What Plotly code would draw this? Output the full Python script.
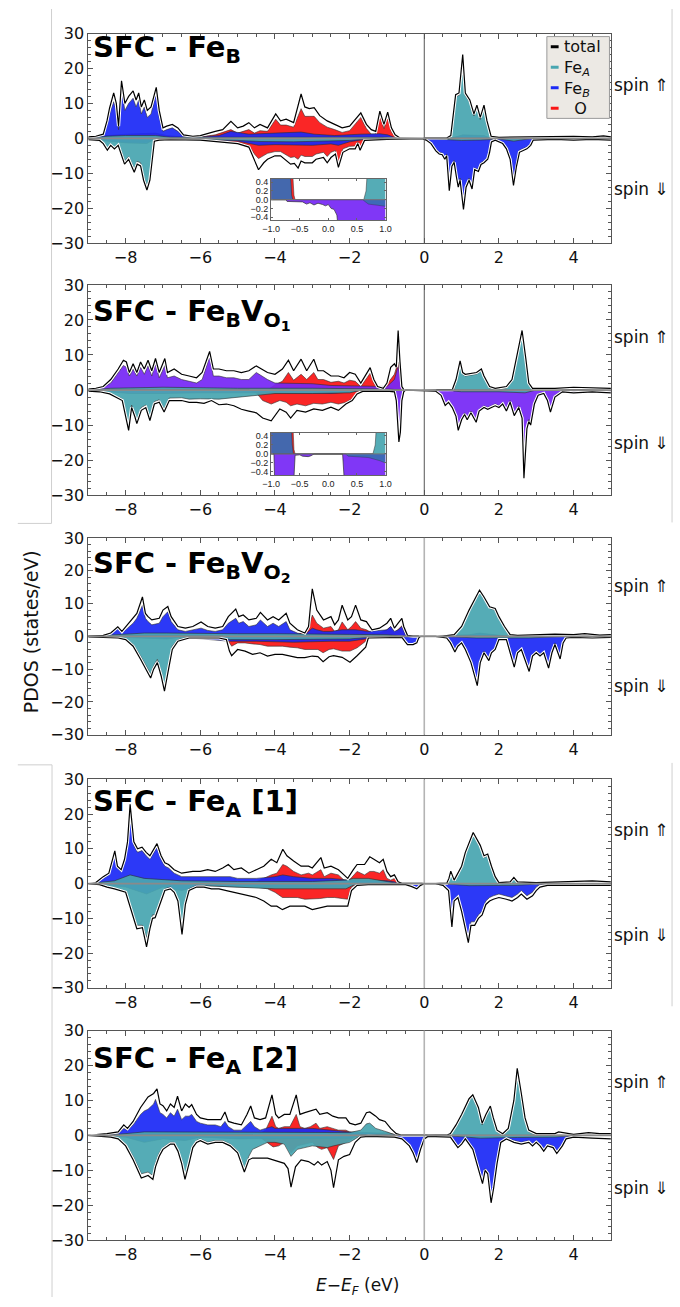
import plotly.graph_objects as go

# ---------------- data (energy in eV, PDOS in states/eV) ----------------
PANEL_TITLES = [
    "SFC - Fe<sub>B</sub>",
    "SFC - Fe<sub>B</sub>V<sub>O<sub>1</sub></sub>",
    "SFC - Fe<sub>B</sub>V<sub>O<sub>2</sub></sub>",
    "SFC - Fe<sub>A</sub> [1]",
    "SFC - Fe<sub>A</sub> [2]",
]
X_TICKS = [-8, -6, -4, -2, 0, 2, 4]
Y_TICKS = [-30, -20, -10, 0, 10, 20, 30]
INSET_X_TICKS = [-1.0, -0.5, 0.0, 0.5, 1.0]
INSET_Y_TICKS = [-0.4, -0.2, 0.0, 0.2, 0.4]
LEGEND_LABELS = ["total", "Fe<sub><i>A</i></sub>", "Fe<sub><i>B</i></sub>", "\u00a0\u00a0O"]

# ---- panel 1: SFC - FeB ----
P1_TOT_UP = [(-9.0,0.4),(-8.8,0.6),(-8.6,1.2),(-8.5,5),(-8.43,8.7),(-8.32,13),(-8.25,10),(-8.19,3.5),(-8.11,16.5),(-8.02,10),(-7.92,12),(-7.8,13.6),(-7.72,11),(-7.65,13),(-7.58,9),(-7.5,11),(-7.42,8),(-7.32,9),(-7.18,14.6),(-7.1,8),(-7.0,3),(-6.9,3.5),(-6.75,4),(-6.6,3),(-6.45,1),(-6.2,0.6),(-6.0,0.8),(-5.8,1.5),(-5.6,2),(-5.4,2.5),(-5.18,4.9),(-5.0,3),(-4.85,3.5),(-4.7,4.5),(-4.55,3),(-4.4,4),(-4.2,3),(-3.98,7),(-3.85,5),(-3.7,5.5),(-3.5,4.5),(-3.3,12.7),(-3.2,9),(-3.08,8.5),(-2.95,8.8),(-2.8,6.5),(-2.6,5),(-2.4,4),(-2.2,3),(-2.0,3.5),(-1.85,5.5),(-1.7,7.3),(-1.55,4),(-1.42,2.5),(-1.3,2),(-1.19,7.8),(-1.08,4),(-0.98,7.5),(-0.88,3),(-0.78,1),(-0.65,0.1),(0.0,0.1),(0.6,0.1),(0.71,0.8),(0.8,8),(0.84,12.5),(0.93,13),(1.03,24),(1.1,13),(1.22,11),(1.33,7),(1.41,9.5),(1.5,6),(1.6,9.5),(1.68,5),(1.79,0.6),(2.0,0.3),(2.5,0.4),(3.0,0.3),(3.5,0.5),(4.0,0.6),(4.5,0.4),(4.8,0.7),(5.0,0.4)]
P1_FEB_UP = [(-9.0,0.2),(-8.6,0.8),(-8.5,4),(-8.43,7),(-8.32,10.5),(-8.25,8),(-8.19,2.5),(-8.11,14),(-8.02,8),(-7.92,10),(-7.8,11.5),(-7.72,9),(-7.65,11),(-7.58,7),(-7.5,9),(-7.42,6),(-7.32,7),(-7.18,13.2),(-7.1,6),(-7.0,2),(-6.9,2.5),(-6.75,3),(-6.6,2),(-6.45,0.5),(-6.0,0.4),(-5.5,0.8),(-5.18,2),(-4.7,1.2),(-4.0,1.5),(-3.3,1.8),(-2.95,1.2),(-2.4,0.8),(-1.7,1.2),(-1.19,1.3),(-0.98,1),(-0.78,0.2),(-0.65,0),(0.7,0),(1.03,1),(1.6,0.8),(1.8,0),(5.0,0)]
P1_O_UP = [(-9.0,0),(-8.5,0.8),(-8.0,1.2),(-7.2,1.5),(-6.9,0.8),(-6.3,0.3),(-6.0,0.4),(-5.6,1),(-5.18,2.5),(-5.0,1.5),(-4.7,2.5),(-4.55,1.5),(-4.4,2.2),(-4.2,2),(-3.98,5.5),(-3.85,3.8),(-3.7,3.8),(-3.5,3.2),(-3.3,8.5),(-3.2,6.3),(-3.08,6.3),(-2.95,6.3),(-2.8,4.5),(-2.6,3.2),(-2.4,2.5),(-2.2,1.7),(-2.0,2.2),(-1.85,4),(-1.7,6),(-1.55,2.8),(-1.42,1.2),(-1.3,1.2),(-1.19,6.5),(-1.08,2.8),(-0.98,6.2),(-0.88,1.8),(-0.78,0.4),(-0.65,0),(5.0,0)]
P1_FEA_UP = [(-9.0,0),(-8.5,0.6),(-8.0,0.8),(-7.2,0.8),(-6.8,0.3),(-5.0,0.3),(-3.0,0.5),(-1.0,0.3),(-0.7,0),(0.65,0),(0.71,0.5),(0.8,7),(0.84,12),(0.93,12.3),(1.03,23),(1.1,12.3),(1.22,10.3),(1.33,6.4),(1.41,8.8),(1.5,5.4),(1.6,8.8),(1.68,4.4),(1.79,0.3),(2.0,0),(5.0,0)]
P1_TOT_DN = [(-9.0,-0.4),(-8.7,-0.6),(-8.6,-1.5),(-8.49,-3.4),(-8.4,-2),(-8.3,-3),(-8.2,-2),(-8.1,-5),(-8.03,-7.4),(-7.92,-6),(-7.77,-9.7),(-7.69,-7.4),(-7.6,-7.9),(-7.52,-12),(-7.43,-14.8),(-7.35,-12),(-7.23,-0.8),(-7.1,-0.5),(-6.8,-0.4),(-6.0,-0.5),(-5.5,-1),(-5.0,-1.5),(-4.7,-2.5),(-4.55,-6),(-4.44,-9),(-4.3,-7),(-4.2,-6),(-4.0,-5),(-3.85,-5),(-3.58,-7.4),(-3.48,-7.2),(-3.38,-8.5),(-3.3,-6.5),(-3.2,-7),(-3.0,-7),(-2.9,-6),(-2.7,-5.5),(-2.6,-7),(-2.5,-5.5),(-2.38,-4.5),(-2.3,-8.3),(-2.18,-4),(-2.0,-3),(-1.85,-3),(-1.78,-1.5),(-1.72,-3.4),(-1.6,-0.6),(-1.0,-0.3),(-0.5,-0.1),(-0.05,-0.1),(0.05,-0.5),(0.18,-1.5),(0.31,-3.6),(0.4,-4.5),(0.48,-4.7),(0.55,-6),(0.6,-5),(0.67,-15),(0.74,-8),(0.8,-6.9),(0.86,-11),(0.91,-14),(0.96,-12),(1.05,-20.4),(1.12,-14),(1.2,-12),(1.28,-14.5),(1.35,-9),(1.45,-9.5),(1.52,-7.5),(1.6,-7),(1.7,-6),(1.75,-4),(1.8,-1),(1.9,-0.5),(2.0,-1),(2.1,-1.5),(2.2,-3),(2.3,-6),(2.39,-13.5),(2.47,-8),(2.55,-4),(2.65,-3.5),(2.75,-3),(2.85,-2),(2.92,-0.5),(3.5,-0.3),(4.0,-0.5),(4.5,-0.3),(5.0,-0.5)]
P1_FEA_DN = [(-9.0,-0.2),(-8.6,-1.2),(-8.49,-3),(-8.4,-1.6),(-8.3,-2.6),(-8.2,-1.6),(-8.1,-4.3),(-8.03,-6.6),(-7.92,-5.2),(-7.77,-8.8),(-7.69,-6.6),(-7.6,-7),(-7.52,-11),(-7.43,-13.6),(-7.35,-11),(-7.23,-0.5),(-7.0,-0.3),(-6.0,-0.3),(-5.0,-0.6),(-4.4,-0.9),(-3.5,-1),(-2.5,-0.8),(-2.0,-0.6),(-1.6,-0.2),(-1.0,0),(0.0,0),(0.5,-0.3),(1.0,-0.6),(1.5,-0.5),(2.0,-0.2),(2.4,-0.8),(2.9,0),(5.0,0)]
P1_FEB_DN = [(-9.0,0),(-8.5,-0.8),(-8.0,-1.3),(-7.43,-1.5),(-7.23,-0.3),(-6.0,-0.3),(-5.0,-0.8),(-4.44,-2),(-4.0,-1.8),(-3.5,-2),(-3.0,-2),(-2.5,-1.6),(-2.3,-2),(-2.0,-1),(-1.6,-0.3),(-1.0,0),(0.0,0),(0.05,-0.3),(0.18,-1.2),(0.31,-3.2),(0.4,-4),(0.48,-4.2),(0.55,-5.5),(0.6,-4.5),(0.67,-14.2),(0.74,-7.5),(0.8,-6.3),(0.86,-10.4),(0.91,-13.4),(0.96,-11.4),(1.05,-19.6),(1.12,-13.4),(1.2,-11.4),(1.28,-13.8),(1.35,-8.5),(1.45,-9),(1.52,-7),(1.6,-6.5),(1.7,-5.5),(1.75,-3.5),(1.8,-0.8),(1.9,-0.3),(2.0,-0.8),(2.1,-1.2),(2.2,-2.5),(2.3,-5),(2.39,-12),(2.47,-7),(2.55,-3.4),(2.65,-3),(2.75,-2.5),(2.85,-1.5),(2.92,-0.2),(3.2,0),(5.0,0)]
P1_O_DN = [(-9.0,0),(-8.5,-0.5),(-8.0,-1),(-7.4,-1),(-7.23,-0.2),(-6.2,-0.2),(-6.0,-0.5),(-5.5,-0.8),(-5.0,-1.2),(-4.7,-2),(-4.55,-4.5),(-4.44,-5.8),(-4.3,-4.8),(-4.2,-4.3),(-4.0,-3.8),(-3.85,-3.8),(-3.58,-5.5),(-3.48,-5.3),(-3.38,-6),(-3.3,-4.8),(-3.2,-5.2),(-3.0,-5.2),(-2.9,-4.5),(-2.7,-4),(-2.6,-5.2),(-2.5,-4),(-2.38,-3.5),(-2.3,-7),(-2.18,-3),(-2.0,-2.3),(-1.85,-2.2),(-1.78,-1),(-1.72,-2.8),(-1.6,-0.4),(-1.4,0),(5.0,0)]

# ---- panel 2: SFC - FeB VO1 ----
P2_TOT_UP = [(-9.0,0.3),(-8.8,0.5),(-8.6,1),(-8.4,3),(-8.2,6),(-8.06,8.5),(-7.98,8),(-7.9,5),(-7.8,7.5),(-7.7,5),(-7.6,8),(-7.5,6),(-7.4,8.5),(-7.3,5.5),(-7.2,9),(-7.1,5),(-6.95,9),(-6.88,5),(-6.7,6),(-6.5,4.5),(-6.3,4),(-6.1,3.5),(-5.95,5),(-5.75,11),(-5.65,6),(-5.5,6),(-5.3,5.5),(-5.1,5.5),(-4.9,5),(-4.7,5.5),(-4.5,6.9),(-4.35,6),(-4.2,5),(-4.0,4.5),(-3.8,6),(-3.64,8.5),(-3.5,5.5),(-3.3,8.8),(-3.15,5.5),(-2.96,8.8),(-2.85,5.5),(-2.7,5.5),(-2.5,4),(-2.3,4),(-2.15,3.5),(-2.0,5),(-1.85,4.5),(-1.7,2),(-1.45,6.4),(-1.35,3),(-1.25,1),(-1.1,0.5),(-1.0,2),(-0.9,6.5),(-0.8,7.5),(-0.75,6.5),(-0.7,17),(-0.65,8),(-0.6,1),(-0.55,0.1),(0.75,0.1),(0.85,3),(0.96,8.3),(1.03,5),(1.1,4.5),(1.4,5),(1.53,6),(1.6,4),(1.75,1),(1.9,0.5),(2.2,1),(2.35,3),(2.47,9),(2.62,17),(2.72,9),(2.8,2),(2.9,0.5),(3.5,0.5),(4.0,0.8),(4.5,0.6),(5.0,0.5)]
P2_FEB_UP = [(-9.0,0.2),(-8.6,0.7),(-8.4,2),(-8.2,5),(-8.06,7),(-7.98,6.5),(-7.9,4),(-7.8,6),(-7.7,4),(-7.6,6.5),(-7.5,4.5),(-7.4,7),(-7.3,4),(-7.2,7.5),(-7.1,3.5),(-6.95,7),(-6.88,3.5),(-6.7,4),(-6.5,3),(-6.3,2.5),(-6.1,2),(-5.95,3),(-5.75,9.5),(-5.65,4),(-5.5,4),(-5.3,3.5),(-5.1,3.5),(-4.9,3),(-4.7,3),(-4.5,5),(-4.35,4),(-4.2,3),(-4.0,2),(-3.5,2),(-3.0,1.8),(-2.5,1.3),(-2.0,1.2),(-1.5,1),(-1.0,1),(-0.8,3),(-0.7,7),(-0.6,0.5),(-0.55,0),(5.0,0)]
P2_O_UP = [(-9.0,0),(-4.2,0),(-4.0,1.5),(-3.8,2.5),(-3.64,5),(-3.5,2.8),(-3.3,4.5),(-3.15,3),(-2.96,5),(-2.85,3),(-2.7,3),(-2.5,2.2),(-2.3,2.5),(-2.15,2),(-2.0,2.8),(-1.85,2.5),(-1.7,1),(-1.45,4.8),(-1.35,2),(-1.25,0.5),(-1.1,0.2),(-0.9,3),(-0.8,4.5),(-0.7,8),(-0.65,5),(-0.6,0.5),(-0.55,0),(5.0,0)]
P2_FEA_UP = [(-9.0,0),(-8.4,0.5),(-7.0,0.8),(-5.0,0.5),(-3.0,0.5),(-1.0,0.3),(-0.6,0),(0.8,0),(0.85,2.5),(0.96,7.6),(1.03,4.5),(1.1,4),(1.4,4.5),(1.53,5.5),(1.6,3.5),(1.75,0.5),(1.9,0.2),(2.2,0.5),(2.35,2.5),(2.47,8.5),(2.62,16),(2.72,8.5),(2.8,1.5),(2.9,0),(5.0,0)]
P2_TOT_DN = [(-9.0,-0.3),(-8.7,-0.5),(-8.43,-1.1),(-8.26,-2.1),(-8.09,-3),(-7.92,-11.5),(-7.84,-5),(-7.75,-7.7),(-7.7,-9.6),(-7.58,-5.8),(-7.46,-5),(-7.35,-8.7),(-7.23,-4),(-7.1,-3.5),(-6.97,-6.3),(-6.83,-3),(-6.5,-3),(-6.3,-3.5),(-6.1,-3.5),(-5.9,-3.8),(-5.7,-3),(-5.5,-4.2),(-5.3,-4),(-5.1,-4.5),(-4.9,-5.5),(-4.7,-6),(-4.5,-6.5),(-4.33,-8),(-4.1,-8.8),(-3.87,-5.4),(-3.7,-6.3),(-3.58,-8),(-3.41,-5.8),(-3.18,-6.3),(-2.96,-5.4),(-2.73,-5.8),(-2.5,-4.9),(-2.3,-5.8),(-2.1,-4),(-1.93,-3),(-1.8,-1.1),(-1.65,-0.4),(-1.0,-0.3),(-0.8,-0.5),(-0.75,-3),(-0.68,-14.8),(-0.64,-12),(-0.6,-3),(-0.55,-0.5),(-0.5,0),(0.3,-0.3),(0.45,-1.5),(0.56,-4.4),(0.65,-3.5),(0.75,-5),(0.85,-7.5),(0.91,-11.5),(1.0,-8.5),(1.08,-7),(1.15,-8.5),(1.25,-6.5),(1.39,-9.2),(1.47,-6),(1.6,-5),(1.7,-5.5),(1.8,-5),(1.9,-4.5),(2.0,-5),(2.1,-4),(2.2,-6),(2.3,-3.5),(2.41,-7.3),(2.53,-5),(2.62,-8),(2.67,-25.2),(2.75,-11),(2.8,-9),(2.85,-10),(2.95,-4),(3.05,-1.5),(3.2,-1),(3.3,-3),(3.38,-6.3),(3.5,-2),(3.7,-0.5),(4.0,-0.8),(4.5,-0.5),(5.0,-0.8)]
P2_FEA_DN = [(-9.0,-0.1),(-8.43,-0.8),(-8.26,-1.8),(-8.09,-2.5),(-7.92,-10.5),(-7.84,-4.3),(-7.75,-7),(-7.7,-8.8),(-7.58,-5),(-7.46,-4.3),(-7.35,-8),(-7.23,-3.3),(-7.1,-2.8),(-6.97,-5.5),(-6.83,-2.3),(-6.5,-2.2),(-6.3,-2.6),(-6.0,-2.5),(-5.5,-2.6),(-5.0,-2),(-4.5,-1.4),(-4.0,-1),(-3.0,-1),(-2.0,-0.8),(-1.7,-0.1),(-1.0,0),(0.5,0),(1.0,-0.5),(2.0,-0.5),(2.7,-0.8),(3.0,0),(5.0,0)]
P2_FEB_DN = [(-9.0,0),(-8.3,-0.5),(-7.9,-1),(-7.0,-1),(-6.0,-0.8),(-4.5,-0.8),(-3.5,-1),(-2.5,-1),(-2.0,-0.6),(-1.7,-0.1),(-0.8,-0.3),(-0.75,-2.5),(-0.68,-14),(-0.64,-11.5),(-0.6,-2.5),(-0.55,-0.3),(-0.5,0),(0.3,-0.2),(0.45,-1.2),(0.56,-4),(0.65,-3.1),(0.75,-4.6),(0.85,-7),(0.91,-11),(1.0,-8),(1.08,-6.5),(1.15,-8),(1.25,-6),(1.39,-8.7),(1.47,-5.5),(1.6,-4.5),(1.7,-5),(1.8,-4.5),(1.9,-4),(2.0,-4.5),(2.1,-3.5),(2.2,-5.5),(2.3,-3),(2.41,-6.8),(2.53,-4.5),(2.62,-7.4),(2.67,-24.2),(2.75,-10.4),(2.8,-8.4),(2.85,-9.4),(2.95,-3.5),(3.05,-1.1),(3.2,-0.7),(3.3,-2.6),(3.38,-5.8),(3.5,-1.6),(3.7,-0.2),(4.0,-0.4),(4.5,-0.2),(5.0,-0.4)]
P2_O_DN = [(-9.0,0),(-4.7,0),(-4.5,-0.8),(-4.33,-3),(-4.1,-4),(-3.87,-3),(-3.7,-3.5),(-3.58,-4.5),(-3.41,-4),(-3.18,-4.5),(-2.96,-3.8),(-2.73,-4),(-2.5,-3.5),(-2.3,-4),(-2.1,-3.5),(-1.93,-2.5),(-1.8,-0.8),(-1.65,-0.2),(-1.5,0),(5.0,0)]

# ---- panel 3: SFC - FeB VO2 ----
P3_TOT_UP = [(-9.0,0.2),(-8.6,0.3),(-8.4,1),(-8.21,2.9),(-8.1,1.5),(-7.95,3.5),(-7.8,5.5),(-7.7,7),(-7.55,12),(-7.47,7),(-7.4,6),(-7.3,5),(-7.1,5.5),(-7.0,8),(-6.87,9.1),(-6.78,6),(-6.6,3),(-6.4,2.5),(-6.2,3),(-5.98,4.4),(-5.8,3),(-5.6,2.5),(-5.4,3),(-5.25,6),(-5.05,8.3),(-4.97,6),(-4.85,6.5),(-4.7,5),(-4.5,5.5),(-4.39,7.3),(-4.2,5),(-4.05,6),(-3.9,5),(-3.7,7),(-3.6,4),(-3.4,2),(-3.2,1),(-3.1,3),(-3.05,9),(-3.0,14.5),(-2.88,8),(-2.7,5),(-2.5,6),(-2.4,3.5),(-2.3,5),(-2.2,9.5),(-2.05,5),(-1.95,6),(-1.84,9.5),(-1.7,5),(-1.55,4.5),(-1.4,2),(-1.2,2.5),(-1.0,4),(-0.9,5.5),(-0.8,2.5),(-0.7,4),(-0.6,5.5),(-0.55,3),(-0.45,0.3),(-0.3,0.05),(0.5,0.05),(0.8,0.5),(1.0,3),(1.2,8),(1.48,14.1),(1.6,12),(1.75,9),(1.9,8.5),(2.0,6),(2.15,3),(2.3,0.5),(2.5,0.3),(3.0,0.5),(3.5,0.7),(4.0,0.5),(4.3,0.8),(4.7,0.4),(5.0,0.5)]
P3_FEB_UP = [(-9.0,0.1),(-8.4,0.8),(-8.21,2.3),(-8.1,1),(-7.95,2.5),(-7.8,4),(-7.7,5.5),(-7.55,9.5),(-7.47,5.5),(-7.4,4.5),(-7.3,3.5),(-7.1,4),(-7.0,6),(-6.87,7.5),(-6.78,4.5),(-6.6,2),(-6.4,1.5),(-6.2,2),(-5.98,2.5),(-5.8,1.8),(-5.6,1.5),(-5.4,2),(-5.25,4),(-5.05,5.5),(-4.97,4),(-4.85,4.5),(-4.7,3),(-4.5,3.5),(-4.39,5),(-4.2,3),(-4.05,4),(-3.9,3),(-3.7,4.5),(-3.6,2),(-3.4,1),(-3.2,0.5),(-3.0,2.5),(-2.88,2),(-2.7,1.5),(-2.5,1.5),(-2.2,2),(-1.84,2),(-1.5,1.5),(-1.0,2),(-0.9,3),(-0.8,1.5),(-0.7,2),(-0.6,3),(-0.5,0.5),(-0.4,0),(1.2,0.5),(1.48,1),(1.9,0.5),(2.3,0),(5.0,0)]
P3_O_UP = [(-9.0,0),(-3.6,0),(-3.4,0.5),(-3.1,2),(-3.0,6.5),(-2.88,4),(-2.7,2.5),(-2.5,3),(-2.4,1.5),(-2.3,2),(-2.2,4.4),(-2.05,2),(-1.95,3),(-1.84,4.5),(-1.7,2.5),(-1.55,2),(-1.4,1),(-1.2,1),(-1.0,2),(-0.9,3),(-0.8,1),(-0.7,2),(-0.6,3.2),(-0.5,0.3),(-0.45,0),(5.0,0)]
P3_FEA_UP = [(-9.0,0),(-8.2,0.5),(-7.5,1),(-6.9,1),(-6.0,0.8),(-5.0,0.8),(-4.0,0.8),(-3.0,0.6),(-2.0,0.6),(-1.0,0.5),(-0.5,0),(0.7,0),(0.8,0.3),(1.0,2.5),(1.2,7.5),(1.48,13.5),(1.6,11.5),(1.75,8.5),(1.9,8),(2.0,5.5),(2.15,2.5),(2.3,0),(5.0,0)]
P3_TOT_DN = [(-9.0,-0.2),(-8.5,-0.3),(-8.2,-0.5),(-8.0,-1),(-7.8,-3),(-7.6,-7),(-7.45,-10),(-7.33,-12.7),(-7.25,-10),(-7.15,-8),(-7.05,-12),(-6.96,-16.7),(-6.85,-10),(-6.75,-4),(-6.6,-1.5),(-6.3,-0.5),(-5.5,-0.5),(-5.3,-1),(-5.22,-4.5),(-5.16,-5.9),(-5.0,-4),(-4.8,-4.5),(-4.6,-5.5),(-4.4,-5),(-4.2,-6),(-4.0,-5.5),(-3.8,-5.5),(-3.6,-6),(-3.4,-6.5),(-3.2,-6.5),(-3.0,-6),(-2.85,-6.2),(-2.71,-7.7),(-2.55,-6.2),(-2.43,-5.9),(-2.2,-6.4),(-1.99,-7.9),(-1.8,-5.9),(-1.57,-3.3),(-1.5,-0.5),(-1.0,-0.3),(-0.6,-0.3),(-0.52,-1.5),(-0.45,-2.5),(-0.3,-2.5),(-0.2,-2),(-0.15,-0.5),(-0.1,0),(0.3,0),(0.6,-0.5),(0.7,-2),(0.82,-4.8),(0.9,-3),(1.0,-2),(1.1,-4),(1.25,-8),(1.42,-15),(1.5,-8),(1.6,-5),(1.73,-7.4),(1.8,-5),(1.9,-4),(2.0,-1),(2.2,-1),(2.41,-9.4),(2.5,-5),(2.6,-4),(2.7,-7),(2.81,-10.7),(2.9,-6),(3.0,-5),(3.1,-6),(3.2,-5),(3.33,-9.7),(3.42,-5),(3.5,-2.5),(3.64,-6.9),(3.72,-2),(3.8,-0.5),(4.0,-0.3),(4.5,-0.5),(5.0,-0.3)]
P3_FEA_DN = [(-9.0,-0.1),(-8.4,-0.3),(-8.0,-0.8),(-7.8,-2.5),(-7.6,-6),(-7.45,-9),(-7.33,-11.5),(-7.25,-9),(-7.15,-7),(-7.05,-11),(-6.96,-15.5),(-6.85,-9),(-6.75,-3),(-6.6,-1),(-6.3,-0.3),(-5.5,-0.5),(-5.2,-1),(-4.0,-1),(-3.0,-0.8),(-2.0,-0.8),(-1.5,-0.3),(-1.0,0),(0.5,0),(1.4,-0.5),(2.8,-0.5),(3.8,0),(5.0,0)]
P3_FEB_DN = [(-9.0,0),(-7.5,-0.5),(-6.9,-0.8),(-6.5,-0.3),(-5.2,-1.5),(-4.5,-1.5),(-3.5,-1.8),(-2.5,-1.5),(-2.0,-1.5),(-1.57,-0.8),(-1.5,-0.3),(-0.6,-0.2),(-0.52,-1.3),(-0.45,-2.3),(-0.3,-2.3),(-0.2,-1.8),(-0.15,-0.4),(-0.1,0),(0.5,0),(0.6,-0.3),(0.7,-1.5),(0.82,-4.3),(0.9,-2.7),(1.0,-1.7),(1.1,-3.5),(1.25,-7.5),(1.42,-14.2),(1.5,-7.5),(1.6,-4.5),(1.73,-7),(1.8,-4.5),(1.9,-3.5),(2.0,-0.8),(2.2,-0.8),(2.41,-8.8),(2.5,-4.5),(2.6,-3.5),(2.7,-6.5),(2.81,-10),(2.9,-5.5),(3.0,-4.5),(3.1,-5.5),(3.2,-4.5),(3.33,-9),(3.42,-4.5),(3.5,-2),(3.64,-6.4),(3.72,-1.5),(3.8,-0.2),(4.0,0),(5.0,0)]
P3_O_DN = [(-9.0,0),(-5.4,0),(-5.3,-0.5),(-5.16,-3),(-5.0,-2),(-4.8,-2),(-4.6,-2.3),(-4.4,-2.5),(-4.2,-3),(-4.0,-3),(-3.8,-3),(-3.6,-3.3),(-3.4,-3.5),(-3.2,-4),(-3.0,-4),(-2.85,-4),(-2.71,-5),(-2.55,-4),(-2.43,-3.8),(-2.2,-4.5),(-1.99,-4.5),(-1.8,-3.5),(-1.57,-1.5),(-1.5,-0.3),(-1.4,0),(5.0,0)]

# ---- panel 4: SFC - FeA [1] ----
P4_TOT_UP = [(-9.0,0),(-8.8,0.3),(-8.6,2),(-8.45,3),(-8.29,9.4),(-8.22,5),(-8.12,4),(-8.03,7),(-7.95,12),(-7.88,22.8),(-7.78,12),(-7.68,10),(-7.56,10.5),(-7.45,9),(-7.35,8),(-7.16,11.5),(-7.05,8),(-6.95,6),(-6.85,5.5),(-6.7,4),(-6.5,3),(-6.2,3.5),(-6.0,3.5),(-5.8,4),(-5.6,3.5),(-5.4,4.5),(-5.25,5.5),(-5.1,4),(-4.9,4.5),(-4.7,3),(-4.5,4),(-4.3,5),(-4.1,7),(-3.95,6),(-3.79,9.9),(-3.68,8),(-3.5,6.5),(-3.3,5),(-3.1,5),(-3.0,4.5),(-2.77,7.5),(-2.68,4.5),(-2.5,5),(-2.3,4),(-2.15,2.5),(-2.05,1.5),(-1.9,4),(-1.8,5.5),(-1.6,5.5),(-1.46,7.7),(-1.35,7),(-1.2,6),(-1.1,7),(-1.0,3.5),(-0.9,2),(-0.8,2.5),(-0.7,0.5),(-0.6,0.05),(0.6,0.05),(0.66,1.5),(0.71,3.6),(0.8,1),(1.0,5),(1.1,9),(1.31,14.7),(1.4,13),(1.5,11),(1.6,8),(1.7,8.5),(1.8,5),(1.9,2),(2.0,0.3),(2.3,0.5),(2.4,1.8),(2.5,0.5),(3.0,0.3),(3.5,0.5),(4.0,0.5),(4.5,0.8),(5.0,0.5)]
P4_FEB_UP = [(-9.0,0),(-8.8,0.3),(-8.6,1.5),(-8.45,2.5),(-8.29,8),(-8.22,4.5),(-8.12,3.5),(-8.03,6),(-7.95,11),(-7.88,21),(-7.78,11),(-7.68,9),(-7.56,9.5),(-7.45,8),(-7.35,7),(-7.16,10.5),(-7.05,7),(-6.95,5),(-6.85,4.5),(-6.7,3),(-6.5,2),(-6.2,2),(-6.0,2),(-5.8,2),(-5.6,1.8),(-5.4,2),(-5.2,2),(-5.0,1.5),(-4.5,1.5),(-4.0,2),(-3.79,2.5),(-3.5,2),(-3.0,1.5),(-2.5,1.5),(-2.0,1),(-1.5,1),(-1.0,0.8),(-0.8,0.5),(-0.7,0),(5.0,0)]
P4_O_UP = [(-9.0,0),(-4.7,0),(-4.5,0.5),(-4.3,1.5),(-4.1,2.5),(-3.95,3),(-3.79,5.5),(-3.68,5),(-3.5,3.5),(-3.3,2.5),(-3.1,3),(-3.0,2.5),(-2.77,4),(-2.68,2),(-2.5,3),(-2.3,2.5),(-2.15,1),(-2.05,0.5),(-1.9,2.5),(-1.8,3.5),(-1.6,2.5),(-1.46,3.5),(-1.35,3.5),(-1.2,3),(-1.1,4),(-1.0,1.5),(-0.9,1),(-0.8,1.5),(-0.7,0.3),(-0.6,0),(5.0,0)]
P4_FEA_UP = [(-9.0,0),(-8.3,0.8),(-7.88,2.5),(-7.5,1.5),(-6.5,0.8),(-5.0,0.6),(-3.0,0.6),(-2.1,1),(-1.9,1.5),(-1.5,1.5),(-1.0,0.6),(-0.7,0),(0.6,0),(0.66,1.3),(0.71,3.2),(0.8,0.8),(1.0,4.5),(1.1,8.5),(1.31,14),(1.4,12.5),(1.5,10.5),(1.6,7.5),(1.7,8),(1.8,4.5),(1.9,1.5),(2.0,0),(2.3,0.3),(2.4,1.5),(2.5,0),(5.0,0)]
P4_TOT_DN = [(-9.0,0),(-8.7,-0.3),(-8.5,-1),(-8.3,-1.5),(-8.0,-2.5),(-7.9,-6),(-7.8,-10),(-7.7,-13),(-7.55,-12.7),(-7.44,-18.2),(-7.35,-13),(-7.28,-10),(-7.21,-9.8),(-7.05,-5),(-6.95,-2),(-6.8,-1.5),(-6.7,-2.5),(-6.6,-5),(-6.49,-14.6),(-6.4,-6),(-6.3,-2),(-6.1,-1),(-5.9,-1),(-5.7,-1.5),(-5.5,-1.5),(-5.3,-2),(-5.1,-2.5),(-4.9,-3),(-4.7,-3.5),(-4.5,-4),(-4.3,-5),(-4.1,-6.5),(-3.95,-6.5),(-3.8,-7.5),(-3.6,-6.5),(-3.4,-6.5),(-3.2,-6.5),(-3.0,-7.5),(-2.8,-7),(-2.6,-6.5),(-2.4,-6.5),(-2.2,-6.5),(-2.05,-6.5),(-1.95,-2),(-1.8,-0.5),(-1.5,-0.3),(-0.5,-0.3),(-0.35,-0.8),(-0.2,-1.5),(-0.1,-0.5),(0.0,0),(0.3,0),(0.5,-0.5),(0.65,-2),(0.74,-12.5),(0.8,-5),(0.9,-4),(1.0,-8),(1.1,-13),(1.18,-17),(1.25,-12),(1.35,-12),(1.45,-10),(1.55,-9),(1.65,-6),(1.75,-5),(1.85,-4.5),(2.0,-4),(2.2,-4.5),(2.35,-5),(2.5,-4),(2.6,-3),(2.75,-4.5),(2.9,-3.5),(3.0,-2),(3.1,-1),(3.3,-0.5),(4.0,-0.5),(5.0,-0.5)]
P4_FEA_DN = [(-9.0,0),(-8.5,-0.8),(-8.3,-1.3),(-8.0,-2.3),(-7.9,-5.5),(-7.8,-9),(-7.7,-12),(-7.55,-12),(-7.44,-15.5),(-7.35,-12),(-7.28,-9),(-7.21,-9),(-7.05,-4.5),(-6.95,-1.5),(-6.8,-1),(-6.7,-2),(-6.6,-4.5),(-6.49,-13.5),(-6.4,-5.5),(-6.3,-1.5),(-6.1,-0.5),(-5.5,-0.8),(-5.0,-1),(-4.0,-1.5),(-3.0,-1.5),(-2.1,-1.5),(-1.9,-0.5),(-1.5,0),(0.5,0),(1.2,-0.6),(2.5,-0.5),(3.2,0),(5.0,0)]
P4_FEB_DN = [(-9.0,0),(-8.0,-1),(-7.44,-3),(-7.0,-1),(-6.49,-2),(-6.0,-0.5),(-5.0,-1),(-4.0,-1),(-3.0,-1.2),(-2.05,-1),(-1.9,-0.3),(-1.5,0),(-0.5,0),(-0.35,-0.7),(-0.2,-1.3),(-0.1,-0.3),(0.0,0),(0.5,-0.3),(0.65,-1.5),(0.74,-11.5),(0.8,-4.5),(0.9,-3.5),(1.0,-7.5),(1.1,-12),(1.18,-16),(1.25,-11),(1.35,-11),(1.45,-9),(1.55,-8),(1.65,-5),(1.75,-4),(1.85,-3.5),(2.0,-3),(2.2,-3.5),(2.35,-4),(2.5,-3),(2.6,-2),(2.75,-3.5),(2.9,-2.5),(3.0,-1),(3.1,-0.3),(3.3,0),(5.0,0)]
P4_O_DN = [(-9.0,0),(-5.6,0),(-5.5,-0.3),(-5.0,-0.8),(-4.5,-1),(-4.2,-1.5),(-4.0,-2.5),(-3.8,-4),(-3.6,-4),(-3.4,-4),(-3.2,-4.5),(-3.0,-4.5),(-2.8,-4.3),(-2.6,-4),(-2.4,-4),(-2.2,-4.3),(-2.05,-4.5),(-1.95,-1),(-1.8,-0.2),(-1.7,0),(5.0,0)]

# ---- panel 5: SFC - FeA [2] ----
P5_TOT_UP = [(-9.0,0),(-8.7,0.2),(-8.5,0.5),(-8.2,1),(-8.05,3),(-7.95,2),(-7.8,4),(-7.6,8),(-7.5,9.5),(-7.4,11),(-7.25,12),(-7.16,13.3),(-7.08,9),(-7.0,8.5),(-6.9,7),(-6.8,9),(-6.7,8),(-6.61,11.2),(-6.5,7),(-6.4,9),(-6.3,8),(-6.23,8.8),(-6.1,6),(-6.0,5),(-5.8,4.5),(-5.6,4.5),(-5.45,4.5),(-5.34,6.7),(-5.25,4),(-5.1,3.5),(-4.9,3),(-4.75,6),(-4.65,8.4),(-4.55,5),(-4.4,4.5),(-4.25,5),(-4.08,11.6),(-3.98,6),(-3.9,5),(-3.75,6),(-3.6,6),(-3.43,11.6),(-3.33,6),(-3.2,6.5),(-3.05,7),(-2.9,7.5),(-2.8,6),(-2.6,6.5),(-2.45,5.5),(-2.3,5),(-2.1,5),(-2.0,3.5),(-1.85,3),(-1.7,3.5),(-1.55,6.5),(-1.46,6.7),(-1.3,5.5),(-1.2,4.5),(-1.05,4),(-0.9,2),(-0.75,0.5),(-0.6,0.05),(0.6,0.05),(0.7,0.5),(0.85,3),(1.0,6),(1.2,10.5),(1.3,11.6),(1.45,8),(1.55,3.5),(1.65,6),(1.77,8.4),(1.85,5),(1.95,1.5),(2.1,0.5),(2.25,2),(2.4,10),(2.49,19.2),(2.6,12),(2.7,5),(2.8,1.5),(3.0,0.5),(3.5,0.5),(3.6,1),(4.0,0.3),(4.4,0.8),(4.7,0.5),(5.0,0.5)]
P5_FEB_UP = [(-9.0,0),(-8.5,0.3),(-8.2,0.5),(-8.05,2),(-7.95,1.5),(-7.8,3),(-7.6,6),(-7.5,7),(-7.4,7.5),(-7.25,9),(-7.2,10.3),(-7.08,6.5),(-7.0,6),(-6.9,5),(-6.8,6.5),(-6.7,5.5),(-6.61,7.5),(-6.5,4.5),(-6.4,5.5),(-6.3,5.5),(-6.23,6),(-6.1,4),(-6.0,3.5),(-5.8,3),(-5.6,3),(-5.45,2.5),(-5.34,4),(-5.25,2.5),(-5.1,1.5),(-4.9,1.5),(-4.75,3),(-4.65,4),(-4.55,2.5),(-4.4,1.5),(-4.25,2),(-4.08,2.5),(-4.0,2),(-3.75,2),(-3.43,2),(-3.0,2),(-2.5,1.5),(-2.0,1),(-1.5,0.8),(-1.0,0.5),(-0.8,0.3),(-0.7,0),(5.0,0)]
P5_O_UP = [(-9.0,0),(-4.6,0),(-4.4,0.5),(-4.25,1.5),(-4.08,5.5),(-3.98,2.5),(-3.9,2),(-3.75,2.5),(-3.6,2.5),(-3.43,6),(-3.33,2.5),(-3.2,2),(-3.05,2.5),(-2.9,3.5),(-2.8,2),(-2.6,2.5),(-2.45,2),(-2.3,1.5),(-2.1,1.5),(-2.0,1),(-1.85,0.5),(-1.5,0.5),(-1.0,0.8),(-0.8,0.3),(-0.7,0),(5.0,0)]
P5_FEA_UP = [(-9.0,0),(-8.2,0.3),(-7.5,1),(-6.5,1),(-5.0,0.8),(-3.5,0.8),(-2.0,0.8),(-1.7,1.5),(-1.55,3.3),(-1.46,3.5),(-1.3,2),(-1.0,1),(-0.75,0),(0.65,0),(0.7,0.3),(0.85,2.5),(1.0,5.5),(1.2,10),(1.3,11),(1.45,7.5),(1.55,3),(1.65,5.5),(1.77,8),(1.85,4.5),(1.95,1),(2.1,0.3),(2.25,1.5),(2.4,9.5),(2.49,18.5),(2.6,11.5),(2.7,4.5),(2.8,1),(3.0,0),(5.0,0)]
P5_TOT_DN = [(-9.0,0),(-8.7,-0.3),(-8.4,-0.5),(-8.2,-1),(-8.0,-3),(-7.8,-7),(-7.65,-10.5),(-7.58,-12.2),(-7.4,-11.5),(-7.27,-12.6),(-7.2,-9),(-7.1,-6),(-7.0,-4),(-6.8,-2.5),(-6.7,-2.5),(-6.6,-4.5),(-6.5,-8),(-6.41,-12.6),(-6.3,-8),(-6.2,-3.5),(-6.1,-2),(-6.0,-1.5),(-5.8,-2.5),(-5.6,-2),(-5.4,-2),(-5.2,-3),(-5.0,-5),(-4.9,-8),(-4.82,-10.5),(-4.7,-7),(-4.6,-6.5),(-4.4,-6.5),(-4.2,-6.5),(-4.05,-7),(-3.9,-7.5),(-3.75,-8),(-3.65,-9.5),(-3.57,-14.8),(-3.45,-9),(-3.3,-7),(-3.1,-7.5),(-2.95,-8.5),(-2.85,-7.5),(-2.75,-8.5),(-2.6,-7.5),(-2.5,-10),(-2.43,-15),(-2.3,-7),(-2.15,-6),(-2.0,-5.5),(-1.85,-2),(-1.7,-0.5),(-1.5,-0.3),(-1.0,-0.3),(-0.8,-0.5),(-0.6,-1),(-0.5,-2),(-0.4,-3),(-0.3,-5),(-0.2,-7.8),(-0.1,-4),(0.0,-1),(0.1,-0.3),(0.5,-0.3),(0.7,-0.5),(0.8,-2),(0.9,-3.5),(1.0,-2.5),(1.1,-1),(1.3,-4),(1.4,-8),(1.56,-13.8),(1.63,-10),(1.7,-11),(1.79,-19.3),(1.86,-15),(1.95,-8),(2.05,-2),(2.2,-1),(2.4,-2),(2.6,-2.5),(2.8,-2),(2.9,-3),(3.0,-2),(3.1,-3),(3.2,-4.5),(3.3,-3),(3.45,-3.5),(3.55,-5.2),(3.7,-3),(3.8,-1),(4.0,-0.5),(4.5,-0.8),(5.0,-1)]
P5_FEA_DN = [(-9.0,0),(-8.4,-0.3),(-8.2,-0.8),(-8.0,-2.5),(-7.8,-6),(-7.65,-9.5),(-7.58,-11),(-7.4,-10.5),(-7.27,-11.5),(-7.2,-8),(-7.1,-5),(-7.0,-3.5),(-6.8,-2),(-6.7,-2),(-6.6,-4),(-6.5,-7.5),(-6.41,-12),(-6.3,-7.5),(-6.2,-3),(-6.1,-1.5),(-6.0,-1),(-5.8,-2),(-5.6,-1.5),(-5.4,-1.5),(-5.2,-2.5),(-5.0,-4.5),(-4.9,-7),(-4.82,-9.5),(-4.7,-6),(-4.6,-4),(-4.4,-3),(-4.2,-2),(-4.0,-2),(-3.75,-2.5),(-3.57,-6),(-3.4,-4),(-3.0,-3),(-2.6,-3.5),(-2.43,-3),(-2.0,-2),(-1.85,-1),(-1.7,0),(0.5,0),(1.5,-0.8),(2.5,-0.6),(3.5,-0.5),(4.0,0),(5.0,0)]
P5_FEB_DN = [(-9.0,0),(-8.0,-0.5),(-7.5,-2),(-7.0,-1),(-6.4,-1.5),(-6.0,-0.5),(-5.0,-1),(-4.0,-1),(-3.0,-1),(-2.0,-0.8),(-1.7,0),(-0.8,-0.3),(-0.6,-0.8),(-0.5,-1.8),(-0.4,-2.8),(-0.3,-4.7),(-0.2,-7.6),(-0.1,-3.7),(0.0,-0.8),(0.1,0),(0.7,-0.3),(0.8,-1.8),(0.9,-3.2),(1.0,-2.2),(1.1,-0.8),(1.3,-3.7),(1.4,-7.5),(1.56,-13.5),(1.63,-9.5),(1.7,-10.5),(1.79,-18.5),(1.86,-14.5),(1.95,-7.5),(2.05,-1.7),(2.2,-0.7),(2.4,-1.5),(2.6,-2),(2.8,-1.5),(2.9,-2.5),(3.0,-1.5),(3.1,-2.5),(3.2,-4),(3.3,-2.5),(3.45,-3),(3.55,-4.5),(3.7,-2.5),(3.8,-0.5),(4.0,0),(5.0,0)]
P5_O_DN = [(-9.0,0),(-4.6,0),(-4.4,-0.5),(-4.2,-2),(-4.05,-3.3),(-3.9,-3),(-3.75,-2),(-3.57,-5),(-3.4,-3),(-3.0,-2),(-2.85,-3.5),(-2.75,-4),(-2.6,-3.5),(-2.43,-6.9),(-2.3,-3),(-2.0,-1.5),(-1.85,-0.3),(-1.7,0),(5.0,0)]

# ---- insets (zoom of the gap, -1..1 eV) ----
INS1_O_UP = [(-1.0,1),(-0.64,1),(-0.6,0.1),(-0.58,0),(1.0,0)]
INS1_FEB_UP = [(-1.0,1),(-0.68,1),(-0.64,0.1),(-0.62,0),(1.0,0)]
INS1_FEA_UP = [(-1.0,0),(0.62,0),(0.66,0.2),(0.7,1),(1.0,1)]
INS1_FEB_DN = [(-1.0,0),(-0.74,0),(-0.72,-0.04),(-0.6,-0.05),(-0.5,-0.06),(-0.45,-0.05),(-0.38,-0.1),(-0.32,-0.07),(-0.25,-0.12),(-0.18,-0.08),(-0.1,-0.11),(-0.05,-0.14),(0.0,-0.11),(0.05,-0.2),(0.1,-0.22),(0.15,-0.35),(0.2,-1),(1.0,-1)]
INS1_FEA_DN = [(-1.0,0),(0.6,0),(0.7,-0.1),(0.85,-0.12),(1.0,-0.15)]
INS2_O_UP = [(-1.0,1),(-0.63,1),(-0.6,0.1),(-0.58,0),(1.0,0)]
INS2_FEB_UP = [(-1.0,1),(-0.66,1),(-0.63,0.2),(-0.61,0),(1.0,0)]
INS2_FEA_UP = [(-1.0,0),(0.78,0),(0.82,0.2),(0.86,1),(1.0,1)]
INS2_FEB_DN = [(-1.0,0),(-0.95,0),(-0.93,-1),(-0.62,-1),(-0.58,-0.03),(-0.5,-0.02),(-0.45,-0.05),(-0.35,-0.06),(-0.3,-0.04),(-0.25,0),(0.25,0),(0.3,-1),(1.0,-1)]
INS2_FEA_DN = [(-1.0,0),(0.3,0),(0.35,-0.05),(0.7,-0.08),(0.9,-0.15),(1.0,-0.2)]

PANELS = [
    dict(tot_up=P1_TOT_UP, tot_dn=P1_TOT_DN, fea_up=P1_FEA_UP, fea_dn=P1_FEA_DN, feb_up=P1_FEB_UP, feb_dn=P1_FEB_DN, o_up=P1_O_UP, o_dn=P1_O_DN),
    dict(tot_up=P2_TOT_UP, tot_dn=P2_TOT_DN, fea_up=P2_FEA_UP, fea_dn=P2_FEA_DN, feb_up=P2_FEB_UP, feb_dn=P2_FEB_DN, o_up=P2_O_UP, o_dn=P2_O_DN),
    dict(tot_up=P3_TOT_UP, tot_dn=P3_TOT_DN, fea_up=P3_FEA_UP, fea_dn=P3_FEA_DN, feb_up=P3_FEB_UP, feb_dn=P3_FEB_DN, o_up=P3_O_UP, o_dn=P3_O_DN),
    dict(tot_up=P4_TOT_UP, tot_dn=P4_TOT_DN, fea_up=P4_FEA_UP, fea_dn=P4_FEA_DN, feb_up=P4_FEB_UP, feb_dn=P4_FEB_DN, o_up=P4_O_UP, o_dn=P4_O_DN),
    dict(tot_up=P5_TOT_UP, tot_dn=P5_TOT_DN, fea_up=P5_FEA_UP, fea_dn=P5_FEA_DN, feb_up=P5_FEB_UP, feb_dn=P5_FEB_DN, o_up=P5_O_UP, o_dn=P5_O_DN),
]
INSETS = [
    dict(o_up=INS1_O_UP, feb_up=INS1_FEB_UP, fea_up=INS1_FEA_UP, feb_dn=INS1_FEB_DN, fea_dn=INS1_FEA_DN),
    dict(o_up=INS2_O_UP, feb_up=INS2_FEB_UP, fea_up=INS2_FEA_UP, feb_dn=INS2_FEB_DN, fea_dn=INS2_FEA_DN),
]

# ---------------- style / layout ----------------
W, H = 680, 1307
C_FEA = "rgba(72,166,176,0.93)"
C_FEB = "rgba(28,42,246,0.93)"
C_FEB_V = "rgba(118,40,245,0.93)"
C_O = "rgba(250,22,22,0.93)"
C_STEEL = "rgba(58,108,180,0.95)"
EDGE = "rgba(45,45,45,0.85)"
FEB_COLORS = [C_FEB, C_FEB_V, C_FEB, C_FEB, C_FEB]
LEGEND_COLORS = ["black", "rgb(72,166,176)", "rgb(28,42,246)", "rgb(250,22,22)"]

PANEL_TOP = [25, 280, 536.7, 781.7, 1036.7]
PANEL_BOT = [237.5, 493.3, 736.5, 993.3, 1249.3]
X_LEFT, X_RIGHT = 81.1, 615.5
INSET_BOX = [(268, 385, 172.5, 214.5), (268, 385, 430, 473)]  # x0,x1,ytop,ybot (px)
TITLE_Y = [41, 310, 565, 806, 1066]
SPIN_Y = [(77, 183), (333, 440), (586, 687), (833, 940), (1089, 1196)]
ZERO_LINE_COLORS = ["#555555", "#555555", "#b4b4b4", "#b4b4b4", "#b4b4b4"]

def fx(px):
    return px / W

def fy(py):
    return 1 - py / H

FONT = "DejaVu Sans"
fig = go.Figure()

def area(pts, color, xa, ya, width=0.7):
    fig.add_trace(go.Scatter(
        x=[p[0] for p in pts], y=[p[1] for p in pts], mode="lines",
        fill="tozeroy", fillcolor=color, line=dict(color=EDGE, width=width),
        xaxis=xa, yaxis=ya, showlegend=False, hoverinfo="skip"))

def total(pts, xa, ya):
    xs = [p[0] for p in pts]
    ys = [p[1] for p in pts]
    fig.add_trace(go.Scatter(x=xs, y=ys, mode="lines", line=dict(color="white", width=3.2),
                             xaxis=xa, yaxis=ya, showlegend=False, hoverinfo="skip"))
    fig.add_trace(go.Scatter(x=xs, y=ys, mode="lines", line=dict(color="black", width=1.2),
                             xaxis=xa, yaxis=ya, showlegend=False, hoverinfo="skip"))

layout = dict(width=W, height=H, margin=dict(l=0, r=0, t=0, b=0),
              paper_bgcolor="white", plot_bgcolor="white", showlegend=False,
              font=dict(family=FONT, size=16, color="#111"))
annotations = []
shapes = []

for i, pdata in enumerate(PANELS):
    n = i + 1
    xa = "x" if n == 1 else f"x{n}"
    ya = "y" if n == 1 else f"y{n}"
    area(pdata["o_up"], C_O, xa, ya)
    area(pdata["feb_up"], FEB_COLORS[i], xa, ya)
    area(pdata["fea_up"], C_FEA, xa, ya)
    area(pdata["o_dn"], C_O, xa, ya)
    area(pdata["feb_dn"], FEB_COLORS[i], xa, ya)
    area(pdata["fea_dn"], C_FEA, xa, ya)
    total(pdata["tot_up"], xa, ya)
    total(pdata["tot_dn"], xa, ya)

    xkey = "xaxis" if n == 1 else f"xaxis{n}"
    ykey = "yaxis" if n == 1 else f"yaxis{n}"
    layout[xkey] = dict(domain=[fx(X_LEFT), fx(X_RIGHT)], anchor=ya, range=[-9, 5],
                        tickvals=X_TICKS, ticks="inside", ticklen=5, tickcolor="#555",
                        showline=True, linecolor="#555", linewidth=1, mirror="allticks",
                        showgrid=False, zeroline=False,
                        minor=dict(dtick=0.5, tick0=0, ticks="inside", ticklen=3, tickcolor="#555"),
                        tickfont=dict(family=FONT, size=16, color="#111"))
    layout[ykey] = dict(domain=[fy(PANEL_BOT[i]), fy(PANEL_TOP[i])], anchor=xa, range=[-30, 30],
                        tickvals=Y_TICKS, ticks="inside", ticklen=5, tickcolor="#555",
                        showline=True, linecolor="#555", linewidth=1, mirror="allticks",
                        showgrid=False, zeroline=False,
                        minor=dict(dtick=2, tick0=0, ticks="inside", ticklen=3, tickcolor="#555"),
                        tickfont=dict(family=FONT, size=16, color="#111"))
    xd = "x domain" if n == 1 else f"x{n} domain"
    yd = "y domain" if n == 1 else f"y{n} domain"
    shapes.append(dict(type="line", xref=xa, yref=yd, x0=0, x1=0, y0=0, y1=1,
                       line=dict(color=ZERO_LINE_COLORS[i], width=1 if i < 2 else 1.6), layer="above"))
    shapes.append(dict(type="line", xref=xd, yref=ya, x0=0, x1=1, y0=0, y1=0,
                       line=dict(color="#8a8a8a", width=1.8), layer="above"))

    annotations.append(dict(xref="paper", yref="paper", x=fx(84), y=fy(TITLE_Y[i]),
                            xanchor="left", yanchor="middle", showarrow=False,
                            text=f"<b>{PANEL_TITLES[i]}</b>",
                            font=dict(family=FONT, size=29, color="black")))
    up_y, dn_y = SPIN_Y[i]
    annotations.append(dict(xref="paper", yref="paper", x=fx(617), y=fy(up_y), xanchor="left",
                            yanchor="middle", showarrow=False, text="spin ⇑",
                            font=dict(family=FONT, size=17, color="#111")))
    annotations.append(dict(xref="paper", yref="paper", x=fx(617), y=fy(dn_y), xanchor="left",
                            yanchor="middle", showarrow=False, text="spin ⇓",
                            font=dict(family=FONT, size=17, color="#111")))

# insets
for j, idata in enumerate(INSETS):
    n = 6 + j
    xa, ya = f"x{n}", f"y{n}"
    area(idata["o_up"], C_O, xa, ya, 0.6)
    area(idata["feb_up"], C_STEEL, xa, ya, 0.6)
    area(idata["fea_up"], C_FEA, xa, ya, 0.6)
    area(idata["feb_dn"], C_FEB_V, xa, ya, 0.8)
    area(idata["fea_dn"], C_STEEL, xa, ya, 0.4)
    x0, x1, yt, yb = INSET_BOX[j]
    layout[f"xaxis{n}"] = dict(domain=[fx(x0), fx(x1)], anchor=ya, range=[-1, 1],
                               tickvals=INSET_X_TICKS, ticktext=[f"{v:.1f}".replace("-", "−") for v in INSET_X_TICKS],
                               ticks="inside", ticklen=2, tickcolor="#666", showline=True, linecolor="#666",
                               linewidth=1, mirror="allticks", showgrid=False, zeroline=False,
                               tickfont=dict(family="Liberation Sans", size=9, color="#222"))
    layout[f"yaxis{n}"] = dict(domain=[fy(yb), fy(yt)], anchor=xa, range=[-0.47, 0.47],
                               tickvals=INSET_Y_TICKS, ticktext=[f"{v:.1f}".replace("-", "−") for v in INSET_Y_TICKS],
                               ticks="inside", ticklen=2, tickcolor="#666", showline=True, linecolor="#666",
                               linewidth=1, mirror="allticks", showgrid=False, zeroline=False,
                               tickfont=dict(family="Liberation Sans", size=9, color="#222"))
    shapes.append(dict(type="line", xref=f"x{n} domain", yref=ya, x0=0, x1=1, y0=0, y1=0,
                       line=dict(color="#777", width=1), layer="above"))

# legend (panel 1): one text block, 16px font -> 20.8px line pitch
LEG_TOP, LEG_BOT, LEG_LEFT, LEG_RIGHT = 28, 111, 550, 614
LEG_PITCH = 20.8
leg_center = (LEG_TOP + LEG_BOT) / 2
shapes.append(dict(type="rect", xref="paper", yref="paper", x0=fx(LEG_LEFT), x1=fx(LEG_RIGHT),
                   y0=fy(LEG_BOT), y1=fy(LEG_TOP),
                   fillcolor="rgb(236,233,228)", line=dict(color="#9a9a9a", width=1), layer="above"))
for k, col in enumerate(LEGEND_COLORS):
    yy = leg_center + (k - 1.5) * LEG_PITCH
    shapes.append(dict(type="line", xref="paper", yref="paper", x0=fx(554), x1=fx(562),
                       y0=fy(yy), y1=fy(yy), line=dict(color=col, width=3), layer="above"))
annotations.append(dict(xref="paper", yref="paper", x=fx(565), y=fy(leg_center), xanchor="left",
                        yanchor="middle", align="left", showarrow=False,
                        text="<br>".join(LEGEND_LABELS),
                        font=dict(family=FONT, size=16, color="#111")))

# axis titles
annotations.append(dict(xref="paper", yref="paper", x=fx(22), y=fy(632), xanchor="center",
                        yanchor="middle", showarrow=False, textangle=-90, text="PDOS (states/eV)",
                        font=dict(family=FONT, size=19, color="#111")))
annotations.append(dict(xref="paper", yref="paper", x=fx(356), y=fy(1296), xanchor="center",
                        yanchor="middle", showarrow=False,
                        text="<i>E</i>−<i>E</i><sub><i>F</i></sub> (eV)",
                        font=dict(family=FONT, size=17, color="#111")))

# thin frame lines of the composite figure
FRAME_SEGMENTS = [((43.5, 0), (43.5, 522)), ((9, 522), (43.5, 522)), ((9, 767), (44, 767)),
                  ((44, 767), (44, 1307)), ((678, 0), (678, 521)), ((678, 765), (678, 1012))]
for (a, b) in FRAME_SEGMENTS:
    shapes.append(dict(type="line", xref="paper", yref="paper", x0=fx(a[0]), y0=fy(a[1]),
                       x1=fx(b[0]), y1=fy(b[1]), line=dict(color="#cfcfcf", width=1)))

layout["annotations"] = annotations
layout["shapes"] = shapes
fig.update_layout(**layout)
fig.write_html("out.html")
